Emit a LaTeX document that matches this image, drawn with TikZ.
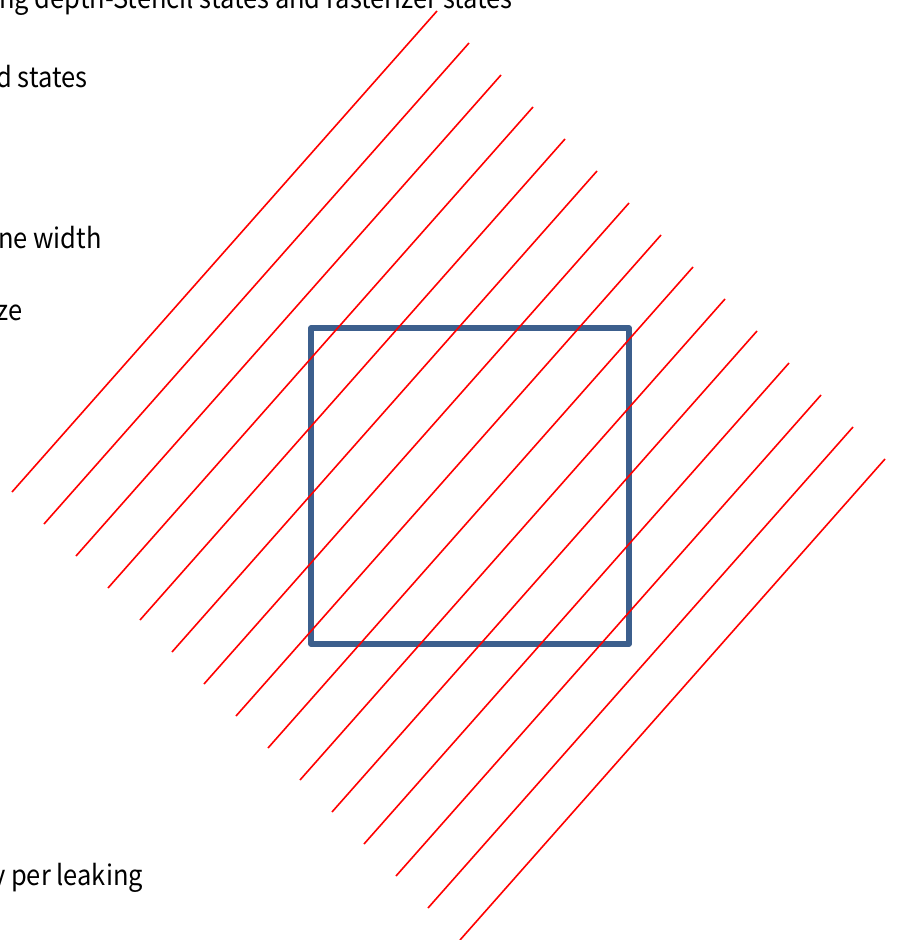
\documentclass[tikz,border=0pt]{standalone}
\usepackage{fontspec}
\setmainfont{Noto Sans CJK KR}[FakeStretch=0.91]
\usepackage{xcolor}
\usepackage{tikz}
\definecolor{cmarco}{HTML}{3C5F8D}
\definecolor{crojo}{HTML}{FF0000}
\tikzset{
  texto/.style={anchor=base west, inner sep=0pt, font=\fontsize{28}{32}\selectfont, text=black},
  marco/.style={draw=cmarco, line width=5.5pt, line join=round},
  raya/.style={draw=crojo, line width=1.6pt},
}
\begin{document}
\begin{tikzpicture}[x=1pt, y=-1pt]
  \useasboundingbox (0,0) rectangle (897,940);
  \clip (0,0) rectangle (897,940);
  % cut-off text lines on the left
  \node[texto] (t1) at (-1,8) {ng depth-Stencil states and rasterizer states};
  \node[texto] (t2) at (-4,87) {d states};
  \node[texto] (t3) at (-2,248) {ne width};
  \node[texto] (t4) at (-4,320) {ze};
  \node[texto] (t5) at (-8,885) {y per leaking};
  % box
  \draw[marco] (311,328) rectangle (629,644);
  % hatching
  \foreach \i in {0,...,14}
    \draw[raya] (437+32*\i, 11+32*\i) -- (12+32*\i, 492+32*\i);
\end{tikzpicture}
\end{document}
